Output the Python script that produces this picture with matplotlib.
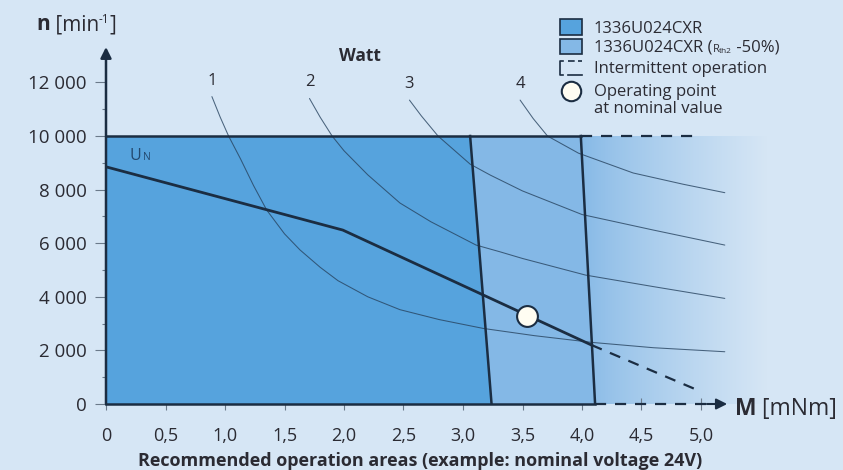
import matplotlib.pyplot as plt
import numpy as np
from matplotlib.patches import Polygon, Rectangle
from matplotlib.lines import Line2D

plt.rcParams["font.family"] = ["Open Sans", "DejaVu Sans"]

W, H = 843, 470

# axis ticks
torque_ticks = [0, 0.5, 1.0, 1.5, 2.0, 2.5, 3.0, 3.5, 4.0, 4.5, 5.0]
torque_labels = ["0", "0,5", "1,0", "1,5", "2,0", "2,5", "3,0", "3,5", "4,0", "4,5", "5,0"]
speed_ticks = [0, 2000, 4000, 6000, 8000, 10000, 12000]
speed_labels = ["0", "2 000", "4 000", "6 000", "8 000", "10 000", "12 000"]

# operating areas [mNm, min-1]
max_speed = 10000
cont_limit_m = [3.06, 3.24]
cont_limit_n = [10000, 0]
cool_limit_m = [3.99, 4.11]
cool_limit_n = [10000, 0]
intermittent_end_m = 5.0

# nominal voltage characteristic
un_m = [0, 1.99, 4.08]
un_n = [8850, 6490, 2200]
un_ext_m = [4.08, 4.97]
un_ext_n = [2200, 520]

# operating point at nominal value
op_m = 3.54
op_n = 3280

# constant power curves (Watt)
watt_labels = ["1", "2", "3", "4"]
watt1_m = [0.89, 0.96, 1.03, 1.13, 1.24, 1.35, 1.50, 1.63, 1.80, 1.95, 2.20, 2.47, 2.80, 3.17, 3.60, 4.08, 4.60, 5.20]
watt1_n = [11470, 10700, 10000, 9150, 8150, 7240, 6350, 5750, 5100, 4600, 4000, 3520, 3150, 2820, 2550, 2300, 2100, 1950]
watt2_m = [1.71, 1.80, 1.90, 2.00, 2.20, 2.47, 2.73, 3.11, 3.31, 3.50, 4.03, 4.60, 5.20]
watt2_n = [11400, 10700, 10000, 9450, 8550, 7500, 6800, 5930, 5680, 5430, 4810, 4380, 3940]
watt3_m = [2.55, 2.65, 2.79, 3.06, 3.23, 3.50, 4.00, 4.60, 5.20]
watt3_n = [11340, 10750, 10000, 8950, 8540, 7950, 7070, 6490, 5930]
watt4_m = [3.48, 3.59, 3.71, 3.97, 4.43, 4.85, 5.20]
watt4_n = [11340, 10650, 10000, 9360, 8620, 8200, 7885]

bg = "#d6e6f5"
dark_fill = "#56a3dd"
light_fill = "#84b8e6"
line_col = "#1b2d42"
curve_col = "#27435f"
text_col = "#2b2b33"

fig = plt.figure(figsize=(W / 100, H / 100), dpi=100, facecolor=bg)

# axes placed so that M=0 / n=0 sit at pixel (106, 404)
x0, y0 = 106, 404
px_m = 119.0
px_n = 26.8 / 1000
ax = fig.add_axes([x0 / W, (H - y0) / H, (W - x0) / W, y0 / H])
ax.set_facecolor(bg)
ax.set_xlim(0, (W - x0) / px_m)
ax.set_ylim(0, y0 / px_n)
for s in ax.spines.values():
    s.set_visible(False)

# intermittent operation: gradient fading to background
c0 = np.array([0x84, 0xb8, 0xe6]) / 255
c1 = np.array([0xd6, 0xe6, 0xf5]) / 255
t = np.linspace(0, 1, 256) ** 0.8
grad = (c0[None, :] * (1 - t[:, None]) + c1[None, :] * t[:, None])[None, :, :]
ax.imshow(grad, extent=[3.98, 5.55, 0, max_speed], aspect="auto", zorder=1, interpolation="bilinear")

light_poly = Polygon([(0, 0), (0, max_speed), (cool_limit_m[0], cool_limit_n[0]),
                      (cool_limit_m[1], cool_limit_n[1])], closed=True,
                     facecolor=light_fill, edgecolor="none", zorder=2)
ax.add_patch(light_poly)
dark_poly = Polygon([(0, 0), (0, max_speed), (cont_limit_m[0], cont_limit_n[0]),
                     (cont_limit_m[1], cont_limit_n[1])], closed=True,
                    facecolor=dark_fill, edgecolor="none", zorder=3)
ax.add_patch(dark_poly)

# power curves
for cm, cn in [(watt1_m, watt1_n), (watt2_m, watt2_n), (watt3_m, watt3_n), (watt4_m, watt4_n)]:
    ax.plot(cm, cn, color=curve_col, lw=0.75, alpha=0.8, zorder=4,
            solid_capstyle="round", solid_joinstyle="round")

# limits
ax.plot(cont_limit_m, cont_limit_n, color=line_col, lw=1.8, zorder=5)
ax.plot(cool_limit_m, cool_limit_n, color=line_col, lw=1.8, zorder=5)
ax.plot([0, cool_limit_m[0]], [max_speed, max_speed], color=line_col, lw=1.8, zorder=5)
ax.plot([cool_limit_m[0], intermittent_end_m], [max_speed, max_speed], color=line_col,
        lw=1.6, ls=(0, (5, 4)), zorder=5)

# nominal voltage line
ax.plot(un_m, un_n, color=line_col, lw=2.0, zorder=6)
ax.plot(un_ext_m, un_ext_n, color=line_col, lw=1.6, ls=(0, (5, 4)), zorder=6)
ax.text(0.20, 9100, "U", color="#23486e", fontsize=11.5, zorder=7, va="baseline")
ax.text(0.315, 9100, "N", color="#23486e", fontsize=7.5, zorder=7, va="baseline")

# operating point
ax.plot([op_m], [op_n], "o", ms=15, mfc="#fffdf2", mec=line_col, mew=1.5, zorder=8)

# axes with arrows
ax.plot([0, cool_limit_m[1]], [0, 0], color=line_col, lw=1.8, zorder=6, clip_on=False)
ax.plot([cool_limit_m[1], 5.08], [0, 0], color=line_col, lw=1.6, ls=(0, (5, 4)), zorder=6, clip_on=False)
ax.annotate("", xy=(5.22, 0), xytext=(5.05, 0),
            arrowprops=dict(arrowstyle="-|>", color=line_col, lw=1.5, mutation_scale=16,
                            shrinkA=0, shrinkB=0), zorder=7, annotation_clip=False)
ax.annotate("", xy=(0, 13320), xytext=(0, 0),
            arrowprops=dict(arrowstyle="-|>", color=line_col, lw=1.8, mutation_scale=16,
                            shrinkA=0, shrinkB=0), zorder=7, annotation_clip=False)

ax.set_xticks(torque_ticks)
ax.set_xticklabels(torque_labels)
ax.set_yticks(speed_ticks)
ax.set_yticklabels(speed_labels)
ax.set_yticks([1000, 3000, 5000, 7000, 9000, 11000], minor=True)
ax.tick_params(axis="x", direction="inout", length=9, width=0.8, colors="#6b7a8a",
               labelcolor=text_col, labelsize=13, pad=12)
ax.tick_params(axis="y", which="major", direction="out", length=8, width=0.8, colors="#6b7a8a",
               labelcolor=text_col, labelsize=13.5, pad=6)
ax.tick_params(axis="y", which="minor", direction="out", length=3, width=0.8, colors="#6b7a8a")

# watt labels
for lab, cm, cn in zip(watt_labels, [watt1_m, watt2_m, watt3_m, watt4_m],
                       [watt1_n, watt2_n, watt3_n, watt4_n]):
    ax.text(cm[0], cn[0] + 300, lab, ha="center", va="bottom", fontsize=12, color=text_col)
ax.text(2.13, 12650, "Watt", ha="center", va="bottom", fontsize=12.5, fontweight="bold", color=text_col)


def fx(px):
    return px / W


def fy(py):
    return 1 - py / H


def text_run(x_px, y_px, pieces):
    renderer = fig.canvas.get_renderer()
    x = x_px
    for s, kw in pieces:
        dy = kw.pop("dy", 0)
        t = fig.text(fx(x), fy(y_px - dy), s, va="baseline", ha="left", **kw)
        x += t.get_window_extent(renderer).width


# axis titles
text_run(36, 30, [("n", dict(fontsize=15, fontweight="bold", color=text_col)),
                  (" [min", dict(fontsize=15, color=text_col)),
                  ("-1", dict(fontsize=8.5, color=text_col, dy=7)),
                  ("]", dict(fontsize=15, color=text_col))])
text_run(735, 415, [("M", dict(fontsize=16.5, fontweight="bold", color=text_col)),
                    (" [mNm]", dict(fontsize=16.5, color=text_col))])
fig.text(fx(420), fy(461), "Recommended operation areas (example: nominal voltage 24V)",
         ha="center", va="center", fontsize=13, fontweight="bold", color=text_col)

# legend
fig.add_artist(Rectangle((fx(560), fy(35)), 22 / W, 16 / H, facecolor=dark_fill,
                         edgecolor=line_col, lw=1.2))
fig.add_artist(Rectangle((fx(560), fy(54)), 22 / W, 15 / H, facecolor=light_fill,
                         edgecolor=line_col, lw=1.2))
fig.add_artist(Line2D([fx(563), fx(560), fx(560), fx(563)], [fy(61), fy(61), fy(75), fy(75)],
                      color=line_col, lw=1.2))
fig.add_artist(Line2D([fx(568), fx(582)], [fy(61), fy(61)], color=line_col, lw=1.2, ls=(0, (4, 2))))
fig.add_artist(Line2D([fx(568), fx(582)], [fy(75), fy(75)], color=line_col, lw=1.2))
fig.add_artist(Line2D([fx(571)], [fy(91)], marker="o", ms=14, mfc="#fffdf2", mec=line_col, mew=1.5))

leg_kw = dict(fontsize=12, color=text_col)
text_run(594, 33, [("1336U024CXR", dict(leg_kw))])
text_run(594, 52, [("1336U024CXR (", dict(leg_kw)),
                   ("R", dict(fontsize=8, color=text_col)),
                   ("th2", dict(fontsize=6, color=text_col, dy=-1)),
                   (" -50%)", dict(leg_kw))])
text_run(594, 73, [("Intermittent operation", dict(leg_kw))])
text_run(594, 96, [("Operating point", dict(leg_kw))])
text_run(594, 113, [("at nominal value", dict(leg_kw))])

fig.savefig("out.png", dpi=100, facecolor=bg)
